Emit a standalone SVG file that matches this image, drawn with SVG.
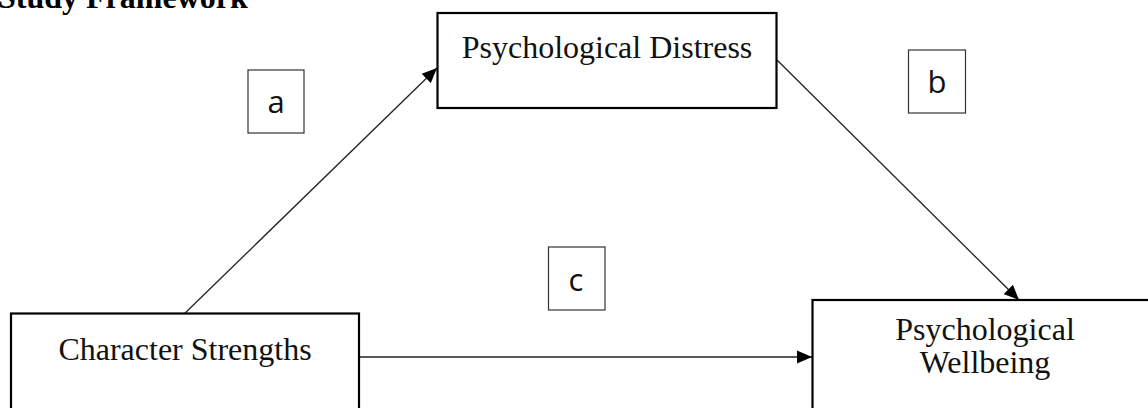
<svg xmlns="http://www.w3.org/2000/svg" width="1148" height="408" viewBox="0 0 1148 408">
<style>
.node{fill:#fff;stroke:#000;stroke-width:2.2}
.lbl{fill:#fff;stroke:#333;stroke-width:1.2}
.t{font-family:"Liberation Serif","Times New Roman",serif;font-size:32px;fill:#111;text-anchor:middle}
.s{font-family:"Open Sans","Liberation Sans",sans-serif;font-size:31px;fill:#111;text-anchor:middle}
.c{stroke:#222;stroke-width:1.3;fill:none;marker-end:url(#ah)}
</style>
<defs>
<marker id="ah" markerUnits="userSpaceOnUse" markerWidth="16" markerHeight="14" refX="15" refY="7" orient="auto">
<path d="M0,0.5 L15,7 L0,13.5 Z" fill="#000"/>
</marker>
</defs>
<text x="-2" y="8" font-family="'Liberation Serif','Times New Roman',serif" font-size="32" font-weight="bold" fill="#000">Study Framework</text>
<g id="connectors">
<line class="c" x1="180" y1="318" x2="437" y2="68"/>
<line class="c" x1="777" y1="60" x2="1019" y2="300"/>
<line class="c" x1="359" y1="357" x2="812" y2="357"/>
</g>
<g id="distress">
<rect class="node" x="437.5" y="13" width="339" height="95"/>
<text class="t" x="607" y="58">Psychological Distress</text>
</g>
<g id="strengths">
<rect class="node" x="11" y="313.5" width="348" height="110"/>
<text class="t" x="185" y="360">Character Strengths</text>
</g>
<g id="wellbeing">
<rect class="node" x="812.5" y="300" width="350" height="120"/>
<text class="t" x="985" y="340">Psychological</text>
<text class="t" x="985" y="373">Wellbeing</text>
</g>
<g id="label-a">
<rect class="lbl" x="248" y="70" width="56" height="63"/>
<text class="s" x="276" y="113">a</text>
</g>
<g id="label-b">
<rect class="lbl" x="908.5" y="50" width="57" height="63"/>
<text class="s" x="937" y="93">b</text>
</g>
<g id="label-c">
<rect class="lbl" x="548.5" y="247" width="56.5" height="63"/>
<text class="s" x="576" y="291">c</text>
</g>
</svg>
